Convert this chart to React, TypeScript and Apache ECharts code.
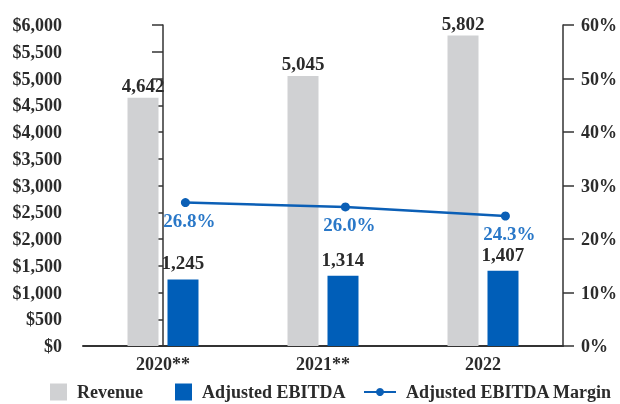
import React, { useEffect, useRef } from "react";
import * as echarts from "echarts";

const categories = ["2020**", "2021**", "2022"];
const revenue = [4642, 5045, 5802];
const ebitda = [1245, 1314, 1407];
const margin = [26.8, 26.0, 24.3];
const LINE_OFFSET = 0.14;

const FONT = "'Liberation Serif', serif";
const TEXT = "#2b2b2b";
const GRAY = "#d0d1d3";
const BLUE = "#005eb8";
const LINE_BLUE = "#0b5fb6";

const legendText = {
  fontFamily: FONT,
  fontSize: 18,
  fontWeight: "bold",
  color: TEXT,
  padding: [0, 0, 0, 5],
};

export default function App() {
  const ref = useRef<HTMLDivElement>(null);
  useEffect(() => {
    const chart = echarts.init(ref.current!, null, { renderer: "svg" });
    chart.setOption({
      animation: false,
      textStyle: { fontFamily: FONT },
      grid: { left: 83, right: 54, top: 25, bottom: 58 },
      legend: [
        {
          top: 383,
          left: 50,
          padding: 0,
          itemWidth: 17,
          itemHeight: 17,
          textStyle: legendText,
          data: [{ name: "Revenue", icon: "rect" }],
        },
        {
          top: 383,
          left: 175,
          padding: 0,
          itemWidth: 17,
          itemHeight: 17,
          textStyle: legendText,
          data: [{ name: "Adjusted EBITDA", icon: "rect" }],
        },
        {
          top: 383,
          left: 363,
          padding: 0,
          itemWidth: 32,
          itemHeight: 10,
          textStyle: legendText,
          data: [{ name: "Adjusted EBITDA Margin" }],
        },
      ],
      xAxis: [
        {
          type: "category",
          data: categories,
          axisLine: { lineStyle: { color: "#333", width: 2 } },
          axisTick: { show: false },
          axisLabel: { fontFamily: FONT, fontSize: 18, fontWeight: "bold", color: TEXT, margin: 9 },
        },
        {
          type: "value",
          min: -0.5,
          max: 2.5,
          show: false,
        },
      ],
      yAxis: [
        {
          type: "value",
          min: 0,
          max: 6000,
          interval: 500,
          splitLine: { show: false },
          axisLine: { show: true, lineStyle: { color: "#333", width: 1.5 } },
          axisTick: { show: true, length: 11, lineStyle: { color: "#333", width: 1.5 } },
          axisLabel: {
            fontFamily: FONT,
            fontSize: 18,
            fontWeight: "bold",
            color: TEXT,
            margin: 21,
            formatter: (v: number) => "$" + v.toLocaleString("en-US"),
          },
        },
        {
          type: "value",
          min: 0,
          max: 60,
          interval: 10,
          position: "right",
          splitLine: { show: false },
          axisLine: { show: true, lineStyle: { color: "#333", width: 1.5 } },
          axisTick: { show: true, length: 11, lineStyle: { color: "#333", width: 1.5 } },
          axisLabel: {
            fontFamily: FONT,
            fontSize: 18,
            fontWeight: "bold",
            color: TEXT,
            margin: 18,
            formatter: (v: number) => v + "%",
          },
        },
      ],
      series: [
        {
          name: "Revenue",
          type: "bar",
          data: revenue,
          barWidth: 31,
          barGap: "29%",
          itemStyle: { color: GRAY },
          label: {
            show: true,
            position: "top",
            distance: 3,
            fontFamily: FONT,
            fontSize: 19,
            fontWeight: "bold",
            color: TEXT,
            formatter: (p: any) => p.value.toLocaleString("en-US"),
          },
        },
        {
          name: "Adjusted EBITDA",
          type: "bar",
          data: ebitda,
          barWidth: 31,
          itemStyle: { color: BLUE },
          label: {
            show: true,
            position: "top",
            distance: 7,
            fontFamily: FONT,
            fontSize: 19,
            fontWeight: "bold",
            color: TEXT,
            formatter: (p: any) => p.value.toLocaleString("en-US"),
          },
        },
        {
          name: "Adjusted EBITDA Margin",
          type: "line",
          xAxisIndex: 1,
          yAxisIndex: 1,
          data: margin.map((v, i) => [i + LINE_OFFSET, v]),
          symbol: "circle",
          symbolSize: 9,
          lineStyle: { color: LINE_BLUE, width: 2.5 },
          itemStyle: { color: LINE_BLUE },
          label: {
            show: true,
            position: "bottom",
            distance: 4,
            offset: [4, 0],
            fontFamily: FONT,
            fontSize: 19,
            fontWeight: "bold",
            color: "#2a78c8",
            formatter: (p: any) => p.value[1].toFixed(1) + "%",
          },
        },
      ],
    });
    return () => chart.dispose();
  }, []);
  return (
    <div
      ref={ref}
      style={{ position: "fixed", left: 0, top: 0, width: 620, height: 404 }}
    />
  );
}
